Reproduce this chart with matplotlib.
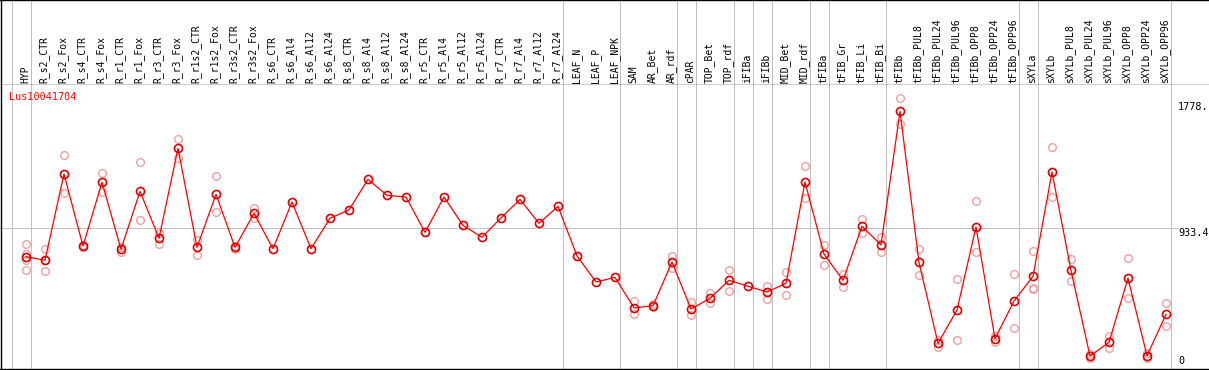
import numpy as np
import matplotlib.pyplot as plt

# sample names (header) and values for Lus10041704
labels = ["HYP", "R_s2_CTR", "R_s2_Fox", "R_s4_CTR", "R_s4_Fox", "R_r1_CTR", "R_r1_Fox",
          "R_r3_CTR", "R_r3_Fox", "R_r1s2_CTR", "R_r1s2_Fox", "R_r3s2_CTR", "R_r3s2_Fox",
          "R_s6_CTR", "R_s6_Al4", "R_s6_Al12", "R_s6_Al24", "R_s8_CTR", "R_s8_Al4",
          "R_s8_Al12", "R_s8_Al24", "R_r5_CTR", "R_r5_Al4", "R_r5_Al12", "R_r5_Al24",
          "R_r7_CTR", "R_r7_Al4", "R_r7_Al12", "R_r7_Al24", "LEAF_N", "LEAF_P", "LEAF_NPK",
          "SAM", "AR_Bet", "AR_rdf", "cPAR", "TOP_Bet", "TOP_rdf", "iFIBa", "iFIBb",
          "MID_Bet", "MID_rdf", "tFIBa", "tFIB_Gr", "tFIB_Li", "tFIB_Bi", "tFIBb",
          "tFIBb_PUL8", "tFIBb_PUL24", "tFIBb_PUL96", "tFIBb_OPP8", "tFIBb_OPP24",
          "tFIBb_OPP96", "sXYLa", "sXYLb", "sXYLb_PUL8", "sXYLb_PUL24", "sXYLb_PUL96",
          "sXYLb_OPP8", "sXYLb_OPP24", "sXYLb_OPP96"]

means = [738, 714, 1295, 810, 1239, 788, 1178, 862, 1468, 801, 1158, 801, 1030, 792, 1106,
         792, 997, 1053, 1259, 1151, 1140, 902, 1140, 949, 869, 999, 1124, 963, 1077, 743, 568,
         599, 393, 408, 702, 386, 458, 579, 539, 500, 559, 1241, 756, 579, 943, 817, 1717,
         700, 155, 379, 938, 186, 440, 606, 1308, 646, 69, 162, 593, 71, 350]

reps = [[823, 756, 716, 646], [790, 714, 640], [1421, 1165], [820, 800], [1300, 1176],
        [800, 772], [1374, 983], [900, 826], [1529, 1401], [850, 747], [1279, 1037],
        [810, 788], [1064, 1001]] + [[]] * 19 + [
        [438, 350], [418, 400], [743, 660], [433, 343], [496, 424], [646, 505], [],
        [541, 453], [637, 478], [1347, 1131], [817, 682], [622, 534], [992, 900],
        [869, 772], [1805, 1632], [790, 615], [177, 130], [586, 177], [1111, 768],
        [204, 166], [620, 258], [774, 523, 530], [1475, 1142], [722, 572], [80, 58],
        [206, 121], [727, 458], [88, 58], [424, 269]]

# group separators come after these sample indices
group_ends = [-1, 0, 28, 31, 34, 35, 37, 38, 39, 41, 42, 45, 52, 53, 60]

ytick_vals = [1778, 933.4, 0]
ytick_text = ["1778.", "933.4", "0"]

W, H = 1209, 370
fig = plt.figure(figsize=(W / 100, H / 100), dpi=100)

x0, dx = 26, 19           # pixel of first sample, spacing
xlim = (-x0 / dx, (W - x0) / dx)
head_px = 85
ax = fig.add_axes([0, 0, 1, (H - head_px) / H])
hd = fig.add_axes([0, (H - head_px) / H, 1, head_px / H])

# pixel mapping of values: v -> 366.3 - v / 6.734
k = 6.734
ax.set_xlim(*xlim)
ax.set_ylim((366.3 - H) * k, (366.3 - head_px) * k)
hd.set_xlim(*xlim)
hd.set_ylim(0, 1)

for a in (ax, hd):
    a.set_xticks([])
    a.set_yticks([])
    for s in a.spines.values():
        s.set_visible(False)

gray = "#c0c0c0"
lw = 0.72
for g in group_ends:
    xg = g + 4.7 / dx
    ax.axvline(xg, color=gray, lw=lw, zorder=1)
    hd.axvline(xg, color=gray, lw=lw, zorder=1)
ax.plot([xlim[0], (1178 - x0) / dx], [933.4, 933.4], color=gray, lw=lw, zorder=1)

# borders
ax.axhline((366.3 - 369) * k, color="black", lw=lw * 1.4)
ax.axvline((1.5 - x0) / dx, color="black", lw=lw * 1.4)
hd.axvline((1.5 - x0) / dx, color="black", lw=lw * 1.4)
hd.axhline(0, color="black", lw=lw * 1.4)
hd.axhline(0.995, color="black", lw=lw * 1.4)

xs = np.arange(len(labels))
for i, r in enumerate(reps):
    if r:
        ax.plot([i] * len(r), r, "o", ms=5.5, mfc="none", mec="#f0a0a0", mew=1.0, zorder=2)
ax.plot(xs, means, "-", color="red", lw=0.9, zorder=3)
ax.plot(xs, means, "o", ms=5.8, mfc="none", mec="#e00000", mew=1.2, zorder=4)

for i, lab in enumerate(labels):
    hd.text(i - 0.05, 2 / head_px, lab, rotation=90, ha="center", va="bottom",
            fontsize=7, family="DejaVu Sans Mono")

ax.text((9 - x0) / dx, (366.3 - 97) * k, "Lus10041704", color="red", fontsize=7.3,
        family="DejaVu Sans Mono", va="center", ha="left")

for v, t in zip(ytick_vals, ytick_text):
    ax.text((1178 - x0) / dx, v, t, fontsize=7.3, family="DejaVu Sans Mono",
            ha="left", va="bottom" if v == 0 else "top")

fig.savefig("out.png", dpi=100)
